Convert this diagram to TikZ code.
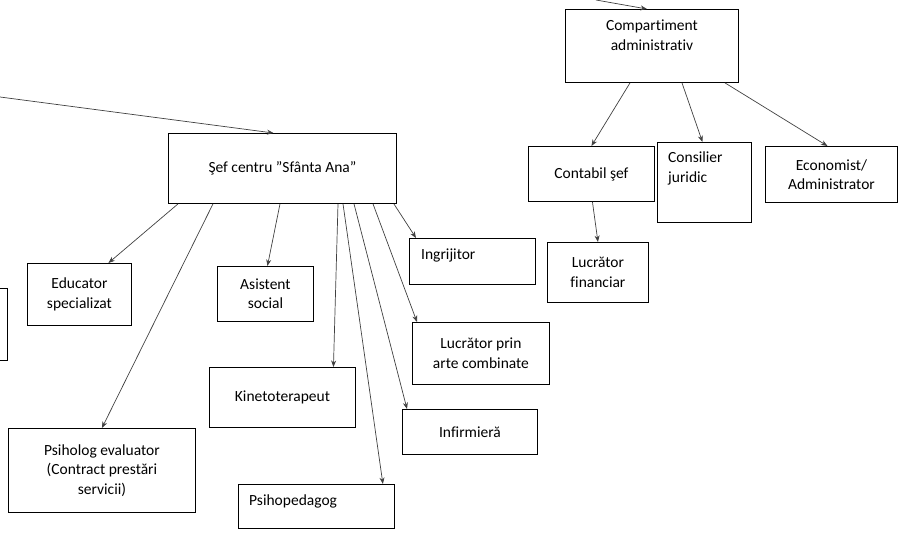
\documentclass[tikz,border=0pt]{standalone}
\usepackage{fontspec}
\setmainfont[Ligatures=NoCommon]{Carlito}
\usetikzlibrary{arrows.meta}
\tikzset{
  unit/.style={draw,line width=0.9pt,rectangle,inner sep=2pt,align=center,anchor=north west,
    font=\fontsize{15.5}{19.5}\selectfont},
  tag/.style={inner sep=0pt,align=left,font=\fontsize{15.5}{19.5}\selectfont},
  link/.style={draw=black!75,line width=0.7pt,-{Stealth[length=6.5pt,width=5pt]}},
}
\begin{document}
\begin{tikzpicture}[x=1pt,y=-1pt]
  \useasboundingbox (0,0) rectangle (903,537);
  \clip (0,0) rectangle (903,537);
  % administrative side
  \node[unit,minimum width=173,minimum height=73,
    label={[tag,align=center,anchor=north,yshift=-11]north:{Compartiment\\administrativ}}] (comp) at (565,9) {};
  \node[unit,minimum width=126,minimum height=55] (cont) at (528,146) {Contabil şef};
  \node[unit,minimum width=94,minimum height=80,
    label={[tag,anchor=north west,xshift=11,yshift=-10]north west:{Consilier\\juridic}}] (cons) at (657,142) {};
  \node[unit,minimum width=132,minimum height=56] (econ) at (765,146) {Economist/\\Administrator};
  \node[unit,minimum width=101,minimum height=60] (fin) at (547,242) {Lucrător\\financiar};
  % centre
  \node[unit,minimum width=228,minimum height=70] (sef) at (168,133) {Şef centru ”Sfânta Ana”};
  \node[unit,minimum width=126,minimum height=46,
    label={[tag,anchor=north west,xshift=12,yshift=-11]north west:{Ingrijitor}}] (ingr) at (409,238) {};
  \node[unit,minimum width=137,minimum height=62] (arte) at (412,322) {Lucrător prin\\arte combinate};
  \node[unit,minimum width=135,minimum height=45] (inf) at (402,409) {Infirmieră};
  \node[unit,minimum width=104,minimum height=62] (edu) at (27,263) {Educator\\specializat};
  \node[unit,minimum width=96,minimum height=55] (asis) at (217,266) {Asistent\\social};
  \node[unit,minimum width=146,minimum height=60] (kin) at (209,367) {Kinetoterapeut};
  \node[unit,minimum width=156,minimum height=44,
    label={[tag,anchor=north west,xshift=11,yshift=-11]north west:{Psihopedagog}}] (ped) at (238,484) {};
  \node[unit,minimum width=187,minimum height=84] (psi) at (8,428) {Psiholog evaluator\\(Contract prestări\\servicii)};
  \node[unit,anchor=north east,minimum width=60,minimum height=72] (part) at (8,288) {};
  % incoming
  \coordinate (inleft) at (0,97);
  \coordinate (intop) at (596,0);
  \draw[link] (inleft) -- ([xshift=-9]sef.north);
  \draw[link] (intop) -- ([xshift=-5]comp.north);
  % links
  \draw[link] ([xshift=65]comp.south west) -- (cont.north);
  \draw[link] ([xshift=117]comp.south west) -- ([xshift=-2]cons.north);
  \draw[link] ([xshift=160]comp.south west) -- ([xshift=-4]econ.north);
  \draw[link] ([xshift=1]cont.south) -- (fin.north);
  \draw[link] ([xshift=10]sef.south west) -- ([xshift=29]edu.north);
  \draw[link] ([xshift=45]sef.south west) -- (psi.north);
  \draw[link] ([xshift=112]sef.south west) -- ([xshift=2]asis.north);
  \draw[link] ([xshift=170]sef.south west) -- ([xshift=51]kin.north);
  \draw[link] ([xshift=175]sef.south west) -- ([xshift=-12]ped.north east);
  \draw[link] ([xshift=186]sef.south west) -- ([xshift=5]inf.north west);
  \draw[link] ([xshift=205]sef.south west) -- ([xshift=5]arte.north west);
  \draw[link] ([xshift=-3]sef.south east) -- ([xshift=7]ingr.north west);
\end{tikzpicture}
\end{document}
